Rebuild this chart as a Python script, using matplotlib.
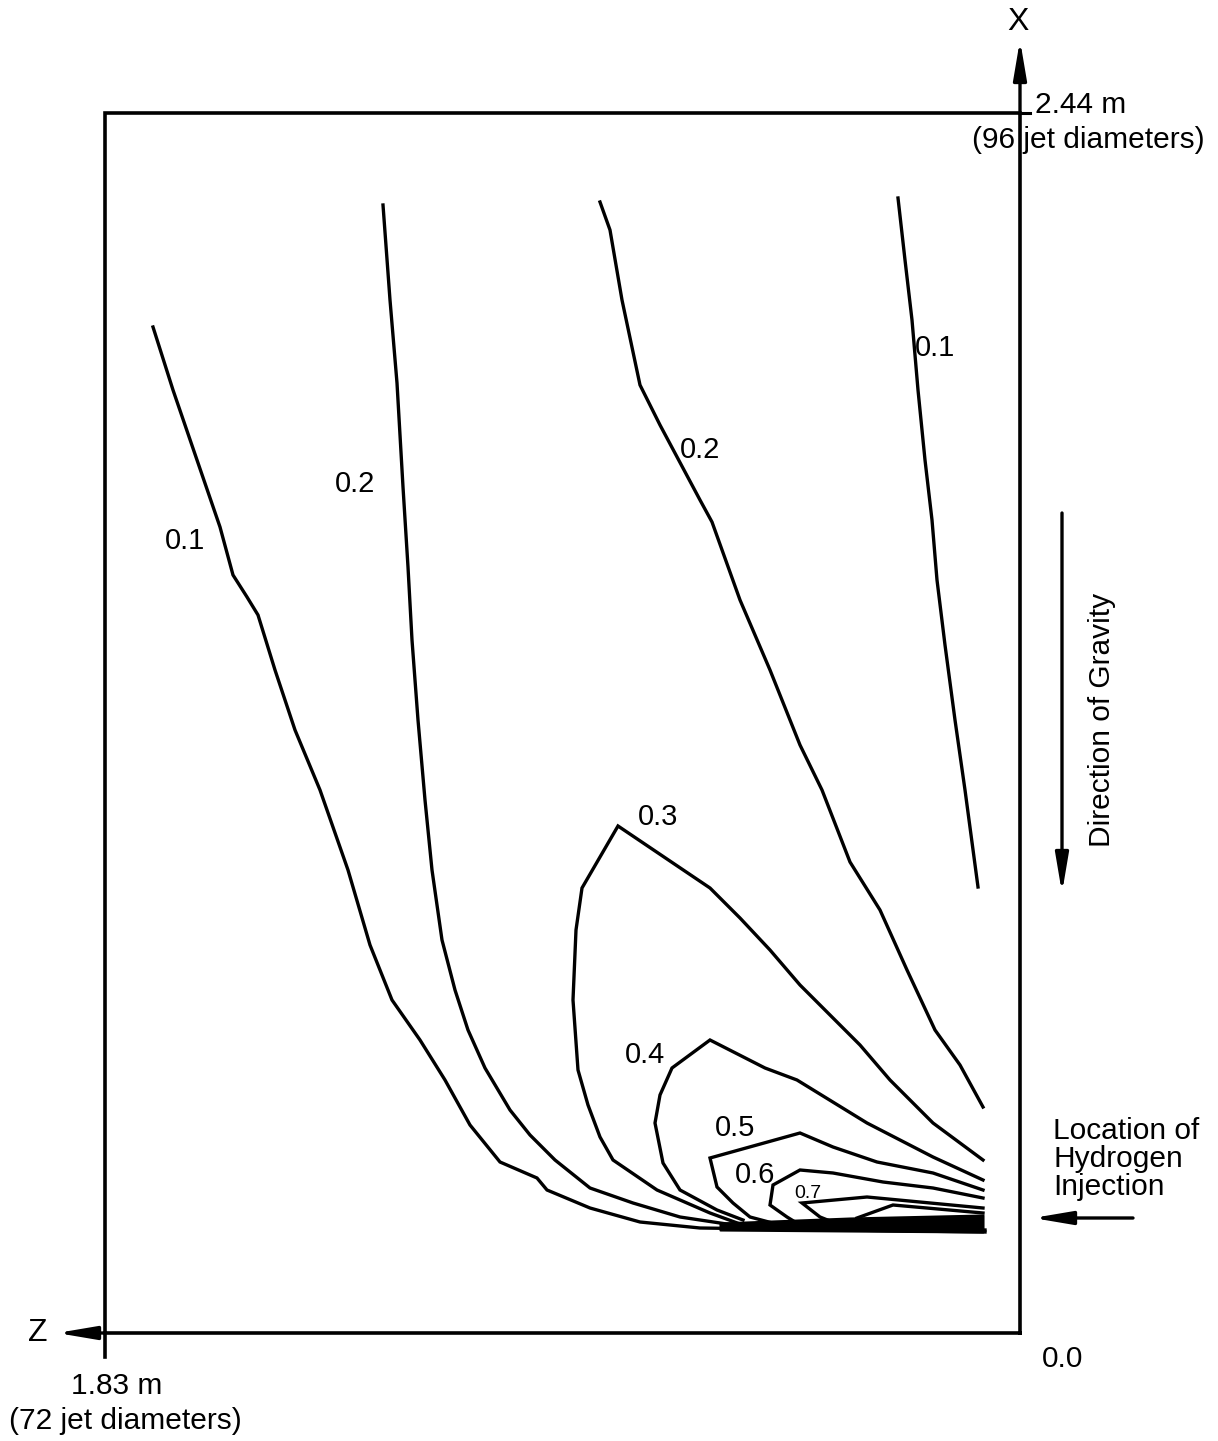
import matplotlib
matplotlib.use('Agg')
import matplotlib.pyplot as plt
import numpy as np

plt.rcParams['font.family'] = ['Liberation Sans', 'DejaVu Sans']

# domain size (m): z runs right->left, x runs bottom->top
z_len = 1.83
x_len = 2.44

# contour lines, points as (z, x) in metres
c01_left_z = [1.734, 1.694, 1.646, 1.600, 1.574, 1.546, 1.524, 1.490, 1.450, 1.400, 1.344, 1.300,
              1.256, 1.200, 1.150, 1.100, 1.040, 0.966, 0.946, 0.860, 0.760, 0.640, 0.070]
c01_left_x = [2.012, 1.886, 1.746, 1.612, 1.516, 1.472, 1.436, 1.326, 1.206, 1.086, 0.926, 0.776,
              0.666, 0.586, 0.506, 0.416, 0.342, 0.310, 0.286, 0.250, 0.222, 0.210, 0.202]

c02_left_z = [1.274, 1.260, 1.246, 1.234, 1.224, 1.216, 1.204, 1.190, 1.176, 1.156, 1.130, 1.104,
              1.070, 1.020, 0.980, 0.930, 0.860, 0.774, 0.680, 0.560, 0.070]
c02_left_x = [2.256, 2.066, 1.900, 1.692, 1.532, 1.386, 1.226, 1.066, 0.926, 0.786, 0.686, 0.606,
              0.530, 0.446, 0.396, 0.346, 0.290, 0.260, 0.232, 0.214, 0.206]

c02_right_z = [0.840, 0.820, 0.796, 0.760, 0.720, 0.640, 0.616, 0.560, 0.500, 0.440, 0.396, 0.340,
               0.280, 0.226, 0.170, 0.120, 0.074]
c02_right_x = [2.262, 2.206, 2.066, 1.896, 1.816, 1.666, 1.622, 1.466, 1.326, 1.176, 1.086, 0.942,
               0.846, 0.726, 0.606, 0.536, 0.452]

c01_right_z = [0.244, 0.230, 0.216, 0.204, 0.190, 0.176, 0.166, 0.150, 0.130, 0.110, 0.084]
c01_right_x = [2.270, 2.146, 2.026, 1.886, 1.746, 1.626, 1.506, 1.376, 1.226, 1.086, 0.892]

c03_z = [0.560, 0.620, 0.726, 0.814, 0.840, 0.864, 0.884, 0.894, 0.888, 0.876, 0.804, 0.620,
         0.560, 0.500, 0.440, 0.380, 0.320, 0.260, 0.174, 0.074]
c03_x = [0.218, 0.240, 0.286, 0.346, 0.392, 0.456, 0.526, 0.666, 0.806, 0.890, 1.014, 0.890,
         0.830, 0.766, 0.696, 0.636, 0.576, 0.506, 0.420, 0.346]

c04_z = [0.554, 0.606, 0.680, 0.714, 0.730, 0.720, 0.696, 0.620, 0.510, 0.446, 0.306, 0.174, 0.074]
c04_x = [0.226, 0.246, 0.286, 0.340, 0.420, 0.476, 0.530, 0.586, 0.530, 0.506, 0.420, 0.352, 0.306]

c05_z = [0.480, 0.540, 0.574, 0.606, 0.620, 0.440, 0.374, 0.286, 0.174, 0.074]
c05_x = [0.216, 0.232, 0.260, 0.292, 0.350, 0.400, 0.372, 0.342, 0.320, 0.286]

c06_z = [0.440, 0.466, 0.500, 0.494, 0.440, 0.374, 0.274, 0.174, 0.074]
c06_x = [0.216, 0.232, 0.256, 0.296, 0.326, 0.320, 0.302, 0.290, 0.270]

c07_z = [0.360, 0.400, 0.436, 0.306, 0.074]
c07_x = [0.216, 0.232, 0.260, 0.272, 0.250]

c08_z = [0.326, 0.254, 0.074]
c08_x = [0.230, 0.256, 0.240]

# packed high-value contours right at the injection height
band_z = [0.600, 0.340, 0.074]
band_top = [0.220, 0.230, 0.236]
band_bot = [0.206, 0.204, 0.202]

labels = ['0.1', '0.2', '0.2', '0.1', '0.3', '0.4', '0.5', '0.6', '0.7']
label_z = [1.670, 1.330, 0.640, 0.170, 0.724, 0.750, 0.570, 0.530, 0.424]
label_x = [1.584, 1.698, 1.766, 1.970, 1.032, 0.556, 0.410, 0.316, 0.280]

fig = plt.figure(figsize=(12.18, 14.41), dpi=100)
ax = fig.add_axes([0, 0, 1, 1])
ax.set_xlim(2.04, -0.396)
ax.set_ylim(-0.216, 2.666)
ax.axis('off')

lw = 2.4
k = 'black'

# frame
ax.plot([0, z_len, z_len, 0, 0], [0, 0, x_len, x_len, 0], color=k, lw=2.6, solid_joinstyle='miter')
ax.plot([0, -0.02], [x_len, x_len], color=k, lw=2.2)         # tick at 2.44 m
ax.plot([z_len, z_len], [0, -0.048], color=k, lw=2.6)          # tick at 1.83 m

# X and Z axis arrows
arrow = dict(arrowstyle='-|>,head_length=1.3,head_width=0.22', color=k, lw=2.4,
             mutation_scale=18, shrinkA=0, shrinkB=0)
ax.annotate('', xy=(0, 2.586), xytext=(0, x_len), arrowprops=arrow)
ax.annotate('', xy=(1.926, 0), xytext=(z_len, 0), arrowprops=arrow)

# gravity and injection arrows
ax.annotate('', xy=(-0.084, 0.88), xytext=(-0.084, 1.64), arrowprops=arrow)
ax.annotate('', xy=(-0.026, 0.23), xytext=(-0.226, 0.23), arrowprops=arrow)

# contours
for zz, xx in [(c01_left_z, c01_left_x), (c02_left_z, c02_left_x), (c02_right_z, c02_right_x),
               (c01_right_z, c01_right_x), (c03_z, c03_x), (c04_z, c04_x), (c05_z, c05_x),
               (c06_z, c06_x), (c07_z, c07_x), (c08_z, c08_x)]:
    ax.plot(zz, xx, color=k, lw=lw, solid_joinstyle='miter')

ax.fill_between(band_z, band_bot, band_top, color=k, lw=1.5)

for t, zz, xx in zip(labels, label_z, label_x):
    fs = 14 if t == '0.7' else 21
    ax.text(zz, xx, t, fontsize=fs, ha='center', va='center')

# annotations
fs = 21.5
ax.text(0.004, 2.622, 'X', fontsize=23, ha='center', va='center')
ax.text(-0.03, 2.456, '2.44 m', fontsize=fs, ha='left', va='center')
ax.text(0.096, 2.386, '(96 jet diameters)', fontsize=fs, ha='left', va='center')
ax.text(1.964, 0.0, 'Z', fontsize=23, ha='center', va='center')
ax.text(1.806, -0.106, '1.83 m', fontsize=fs, ha='center', va='center')
ax.text(1.79, -0.176, '(72 jet diameters)', fontsize=fs, ha='center', va='center')
ax.text(-0.086, -0.052, '0.0', fontsize=fs, ha='center', va='center')
ax.text(-0.066, 0.348, 'Location of\nHydrogen\nInjection', fontsize=fs, ha='left', va='center',
        linespacing=0.98)
ax.text(-0.164, 1.226, 'Direction of Gravity', fontsize=fs, ha='center', va='center', rotation=90)

fig.savefig('out.png', dpi=100)
